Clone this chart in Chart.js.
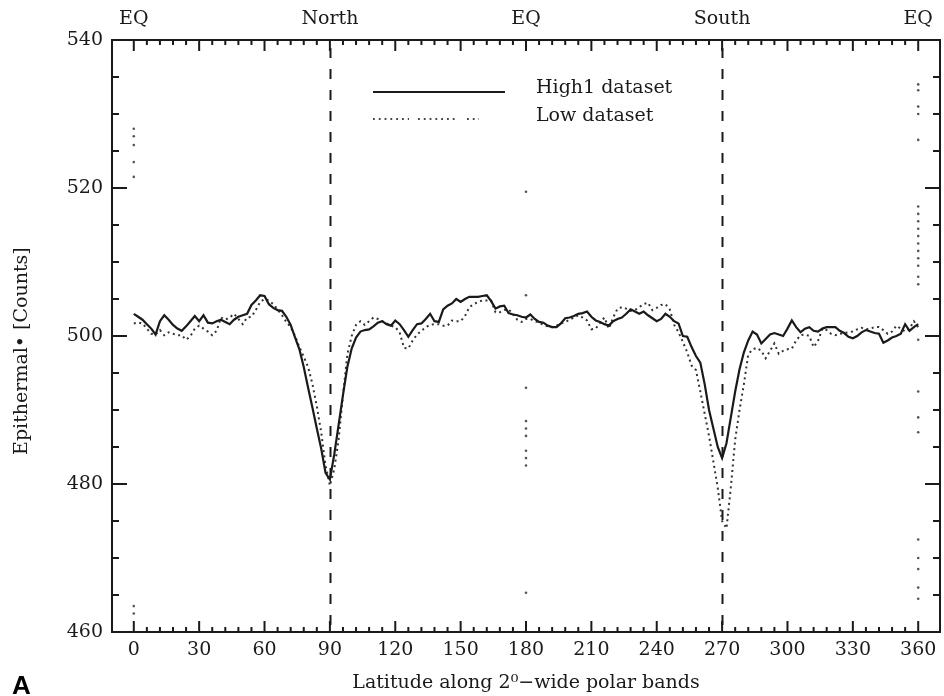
<!DOCTYPE html>
<html>
<head>
<meta charset="utf-8">
<script src="https://cdn.jsdelivr.net/npm/chart.js@4.4.1/dist/chart.umd.min.js"></script>
<style>
  html, body { margin: 0; padding: 0; background: #fff; }
  #wrap { width: 944px; height: 696px; position: relative; }
</style>
</head>
<body>
<div id="wrap"><canvas id="myChart"></canvas></div>
<script>
const latitude = [0, 2, 4, 6, 8, 10, 12, 14, 16, 18, 20, 22, 24, 26, 28, 30, 32, 34, 36, 38, 40, 42, 44, 46, 48, 50, 52, 54, 56, 58, 60, 62, 64, 66, 68, 70, 72, 74, 76, 78, 80, 82, 84, 86, 88, 90, 92, 94, 96, 98, 100, 102, 104, 106, 108, 110, 112, 114, 116, 118, 120, 122, 124, 126, 128, 130, 132, 134, 136, 138, 140, 142, 144, 146, 148, 150, 152, 154, 156, 158, 160, 162, 164, 166, 168, 170, 172, 174, 176, 178, 180, 182, 184, 186, 188, 190, 192, 194, 196, 198, 200, 202, 204, 206, 208, 210, 212, 214, 216, 218, 220, 222, 224, 226, 228, 230, 232, 234, 236, 238, 240, 242, 244, 246, 248, 250, 252, 254, 256, 258, 260, 262, 264, 266, 268, 270, 272, 274, 276, 278, 280, 282, 284, 286, 288, 290, 292, 294, 296, 298, 300, 302, 304, 306, 308, 310, 312, 314, 316, 318, 320, 322, 324, 326, 328, 330, 332, 334, 336, 338, 340, 342, 344, 346, 348, 350, 352, 354, 356, 358, 360];

const high1 = [503.0, 502.6, 502.2, 501.6, 501.0, 500.2, 502.0, 502.8, 502.2, 501.5,
  501.0, 500.7, 501.3, 502.0, 502.7, 502.0, 502.8, 501.8, 501.7, 502.0,
  502.2, 501.9, 501.6, 502.2, 502.6, 502.8, 503.0, 504.2, 504.8, 505.5,
  505.4, 504.3, 503.8, 503.5, 503.4, 502.6, 501.5, 499.8, 498.2, 495.8,
  493.0, 490.3, 487.5, 484.8, 481.5, 480.6, 484.0, 488.0, 492.0, 495.8,
  498.3, 499.8, 500.6, 500.8, 500.9, 501.3, 501.8, 502.0, 501.6, 501.4,
  502.1, 501.6, 500.8, 499.9, 500.8, 501.6, 501.7, 502.3, 503.0, 502.0,
  501.9, 503.6, 504.1, 504.4, 505.0, 504.6, 505.0, 505.3, 505.3, 505.3,
  505.4, 505.5, 504.7, 503.7, 504.0, 504.1, 503.1, 502.9, 502.8, 502.6,
  502.5, 502.9, 502.3, 501.9, 501.8, 501.4, 501.2, 501.2, 501.7, 502.4,
  502.5, 502.7, 503.0, 503.1, 503.3, 502.6, 502.1, 501.9, 501.6, 501.4,
  502.0, 502.3, 502.5, 503.0, 503.6, 503.3, 503.0, 503.3, 502.8, 502.4,
  502.0, 502.3, 503.0, 502.6, 502.0, 501.7, 500.0, 499.9, 498.5, 497.3,
  496.4, 493.5, 490.0, 487.5, 485.0, 483.5, 485.5, 489.0, 492.5, 495.5,
  497.8, 499.4, 500.6, 500.2, 499.0, 499.6, 500.2, 500.4, 500.2, 500.0,
  501.0, 502.1, 501.2, 500.5, 501.0, 501.2, 500.7, 500.6, 501.0, 501.2,
  501.2, 501.2, 500.7, 500.4, 499.9, 499.7, 500.0, 500.5, 500.8, 500.6,
  500.4, 500.3, 499.1, 499.4, 499.8, 500.0, 500.3, 501.6, 500.7, 501.2,
  501.6];

const low = [501.7, 501.8, 501.7, 501.0, 500.3, 500.2, 500.8, 500.1, 500.5, 500.3,
  500.1, 500.1, 499.5, 500.0, 501.0, 501.4, 501.0, 500.6, 500.1, 500.7,
  502.5, 502.2, 502.5, 503.0, 502.3, 501.6, 502.5, 502.6, 503.5, 504.6,
  505.0, 504.8, 504.3, 503.6, 502.8, 501.9, 501.2, 500.0, 498.5, 497.2,
  495.8, 493.5, 490.5, 487.0, 482.5, 479.8, 482.0, 486.0, 492.0, 497.5,
  500.0, 501.5, 502.0, 501.5, 502.0, 502.5, 502.3, 502.0, 501.7, 501.4,
  501.2, 500.5, 498.4, 498.3, 499.4, 500.2, 500.7, 501.2, 501.5, 501.6,
  501.6, 501.4, 501.4, 502.1, 502.0, 502.0, 502.7, 503.9, 504.3, 504.6,
  504.8, 504.8, 504.8, 503.2, 503.2, 503.5, 503.6, 503.0, 502.2, 501.9,
  502.3, 502.3, 502.0, 501.8, 501.5, 501.3, 501.2, 501.4, 501.7, 501.9,
  502.2, 502.5, 502.8, 502.5, 502.1, 500.9, 501.0, 501.8, 502.5, 501.0,
  502.5, 503.7, 503.9, 503.7, 503.4, 503.5, 503.9, 504.3, 504.5, 503.5,
  503.8, 504.2, 504.3, 503.6, 501.5, 500.5, 499.2, 497.8, 496.0, 495.4,
  492.5, 489.5, 486.5, 483.0, 479.5, 475.0, 474.0, 479.5, 486.0, 490.0,
  493.5, 497.5, 498.2, 498.4, 498.0, 497.0, 498.0, 499.0, 497.6, 498.0,
  498.2, 498.3, 499.4, 500.1, 500.2, 500.0, 498.5, 499.3, 501.0, 500.8,
  500.3, 500.1, 500.3, 500.4, 500.5, 500.6, 500.9, 501.1, 500.9, 501.0,
  501.2, 501.2, 500.8, 500.3, 500.6, 501.4, 501.0, 500.6, 501.0, 502.0,
  501.2];

// stray dots along the EQ columns
const strayLat = [0, 0, 0, 0, 0, 0, 0,
  180, 180, 180, 180, 180, 180, 180, 180, 180, 180,
  360, 360, 360, 360, 360, 360, 360, 360, 360, 360, 360, 360, 360, 360, 360, 360, 360, 360, 360, 360, 360, 360, 360, 360, 360];
const strayVal = [528.0, 527.0, 525.8, 523.5, 521.5, 463.5, 462.5,
  519.5, 505.5, 493.0, 488.5, 487.5, 486.5, 484.5, 483.5, 482.5, 465.3,
  534.0, 533.2, 531.0, 530.0, 526.5, 517.5, 516.5, 515.5, 514.5, 513.5, 512.5, 511.5, 510.5, 509.5, 508.0, 507.0,
  499.5, 492.5, 489.0, 487.0, 472.5, 470.0, 468.5, 466.0, 464.5];

const xTicks = [0, 30, 60, 90, 120, 150, 180, 210, 240, 270, 300, 330, 360];
const yTicks = [460, 480, 500, 520, 540];
const topTicks = [0, 90, 180, 270, 360];
const topLabels = ['EQ', 'North', 'EQ', 'South', 'EQ'];
const poles = [90, 270];

const ink = '#1a1a1a';
const serif = 'DejaVu Serif';

const frame = {
  id: 'frame',
  beforeDatasetsDraw(chart) {
    const {ctx, chartArea: a, scales: {x}} = chart;
    ctx.save();
    ctx.strokeStyle = ink;
    ctx.lineWidth = 2;
    ctx.setLineDash([10, 11]);
    poles.forEach(p => {
      const px = Math.round(x.getPixelForValue(p)) + 0.5;
      ctx.beginPath();
      ctx.moveTo(px, a.top + 8);
      ctx.lineTo(px, a.bottom);
      ctx.stroke();
    });
    ctx.restore();
  },
  afterDraw(chart) {
    const {ctx, chartArea: a, scales: {x, y}} = chart;
    ctx.save();
    ctx.strokeStyle = ink;
    ctx.lineWidth = 2;
    ctx.strokeRect(a.left, a.top, a.right - a.left, a.bottom - a.top);

    ctx.beginPath();
    for (let v = 0; v <= 360; v += 6) {
      const px = x.getPixelForValue(v);
      const len = v % 30 === 0 ? 11 : 5;
      ctx.moveTo(px, a.bottom); ctx.lineTo(px, a.bottom - len);
      ctx.moveTo(px, a.top); ctx.lineTo(px, a.top + len);
    }
    for (let v = 460; v <= 540; v += 5) {
      const py = y.getPixelForValue(v);
      const len = v % 20 === 0 ? 15 : 7;
      ctx.moveTo(a.left, py); ctx.lineTo(a.left + len, py);
      ctx.moveTo(a.right, py); ctx.lineTo(a.right - len, py);
    }
    ctx.stroke();

    // legend
    ctx.font = '19px "' + serif + '"';
    ctx.fillStyle = ink;
    ctx.textBaseline = 'middle';
    ctx.fillText('High1 dataset', 536, 88);
    ctx.fillText('Low dataset', 536, 116);
    ctx.lineWidth = 2;
    ctx.beginPath();
    ctx.moveTo(373, 92); ctx.lineTo(505, 92);
    ctx.stroke();
    ctx.lineWidth = 2;
    ctx.strokeStyle = '#444';
    ctx.setLineDash([1.8, 4]);
    [[373, 409], [418, 456], [467, 479]].forEach(s => {
      ctx.beginPath();
      ctx.moveTo(s[0], 119); ctx.lineTo(s[1], 119);
      ctx.stroke();
    });
    ctx.setLineDash([]);

    ctx.font = 'bold 26px "Liberation Sans"';
    ctx.fillStyle = '#000';
    ctx.textBaseline = 'alphabetic';
    ctx.fillText('A', 12, 694);
    ctx.restore();
  }
};

const data = {
  datasets: [{
    label: 'High1 dataset',
    data: latitude.map((l, i) => ({x: l, y: high1[i]})),
    borderColor: ink,
    borderWidth: 2.2,
    pointRadius: 0,
    tension: 0
  }, {
    label: 'Low dataset',
    data: latitude.map((l, i) => ({x: l, y: low[i]})),
    borderColor: '#333',
    borderWidth: 2,
    borderDash: [2, 3.5],
    pointRadius: 0,
    tension: 0
  }, {
    label: 'stray',
    type: 'scatter',
    data: strayLat.map((l, i) => ({x: l, y: strayVal[i]})),
    showLine: false,
    pointRadius: 1.3,
    pointBorderWidth: 0,
    backgroundColor: '#555',
    borderColor: '#555'
  }]
};

const config = {
  type: 'line',
  data: data,
  options: {
    responsive: true,
    maintainAspectRatio: false,
    animation: false,
    layout: { padding: { left: 0, right: 1, top: 0, bottom: 0 } },
    scales: {
      x: {
        type: 'linear',
        position: 'bottom',
        min: -10,
        max: 370,
        afterBuildTicks: s => { s.ticks = xTicks.map(v => ({value: v})); },
        afterFit: s => { s.height = 64; },
        grid: { display: false, drawTicks: false },
        border: { display: false },
        ticks: { color: ink, padding: 7, maxRotation: 0, font: { family: serif, size: 19 } },
        title: {
          display: true,
          text: 'Latitude along 2\u2070\u2212wide polar bands',
          color: ink,
          padding: { top: 0, bottom: 2 },
          font: { family: serif, size: 19 }
        }
      },
      x2: {
        type: 'linear',
        position: 'top',
        min: -10,
        max: 370,
        afterBuildTicks: s => { s.ticks = topTicks.map(v => ({value: v})); },
        afterFit: s => { s.height = 40; },
        grid: { display: false, drawTicks: false },
        border: { display: false },
        ticks: {
          color: ink, padding: 10, maxRotation: 0,
          font: { family: serif, size: 19 },
          callback: v => topLabels[topTicks.indexOf(v)]
        }
      },
      y: {
        min: 460,
        max: 540,
        afterBuildTicks: s => { s.ticks = yTicks.map(v => ({value: v})); },
        afterFit: s => { s.width = 112; },
        grid: { display: false, drawTicks: false },
        border: { display: false },
        ticks: { color: ink, padding: 9, font: { family: serif, size: 19 } },
        title: {
          display: true,
          text: 'Epithermal\u2022 [Counts]     ',
          color: ink,
          padding: { top: 11, bottom: 0 },
          font: { family: serif, size: 19 }
        }
      }
    },
    plugins: {
      legend: { display: false },
      tooltip: { enabled: false }
    }
  },
  plugins: [frame]
};

const chart = new Chart(document.getElementById('myChart'), config);
</script>
</body>
</html>
